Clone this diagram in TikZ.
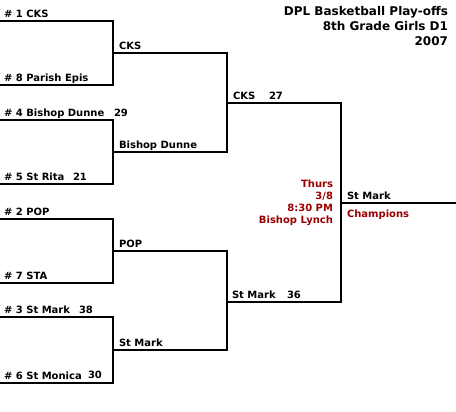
\documentclass[tikz,border=0pt]{standalone}
\usepackage{fontspec}
\setmainfont{DejaVu Sans}
\usetikzlibrary{positioning}
\definecolor{gamered}{RGB}{153,0,0}

\begin{document}
\begin{tikzpicture}[x=0.75pt, y=-0.75pt, line width=1.5pt,
  team/.style={font=\bfseries\fontsize{7.5}{9}\selectfont, anchor=base west, inner sep=0pt},
  note/.style={font=\bfseries\fontsize{7.5}{9}\selectfont, text=gamered, inner sep=0pt},
  heading/.style={font=\bfseries\fontsize{9}{10.9}\selectfont, align=right, inner sep=0pt}]
  \useasboundingbox (0,0) rectangle (456,411);

  % Title
  \node[heading, anchor=base east] (title) at (449,45)
    {DPL Basketball Play-offs\\8th Grade Girls D1\\2007};

  % Slots of the first round
  \coordinate (s1) at (0,21);
  \coordinate (s8) at (0,85);
  \coordinate (s4) at (0,120);
  \coordinate (s5) at (0,184);
  \coordinate (s2) at (0,219);
  \coordinate (s7) at (0,283);
  \coordinate (s3) at (0,317);
  \coordinate (s6) at (0,383);

  % Quarter final winners, semi final winners, final
  \coordinate (qf1) at (113,53);
  \coordinate (qf2) at (113,152);
  \coordinate (qf3) at (113,251);
  \coordinate (qf4) at (113,350);
  \coordinate (sf1) at (227,103);
  \coordinate (sf2) at (227,302);
  \coordinate (fin) at (341,203);
  \coordinate (champ) at (456,203);

  % Bracket lines
  \draw (s1) -| (qf1) |- (s8);
  \draw (s4) -| (qf2) |- (s5);
  \draw (s2) -| (qf3) |- (s7);
  \draw (s3) -| (qf4) |- (s6);
  \draw (qf1) -| (sf1) |- (qf2);
  \draw (qf3) -| (sf2) |- (qf4);
  \draw (sf1) -| (fin) |- (sf2);
  \draw (fin) -- (champ);

  % First round teams
  \node[team] (t1) at ([shift={(3,-4)}]s1) {\# 1 CKS};
  \node[team] (t8) at ([shift={(3,-4)}]s8) {\# 8 Parish Epis};
  \node[team] (t4) at ([shift={(3,-4)}]s4) {\# 4 Bishop Dunne};
  \node[team] (t5) at ([shift={(3,-4)}]s5) {\# 5 St Rita};
  \node[team] (t2) at ([shift={(3,-4)}]s2) {\# 2 POP};
  \node[team] (t7) at ([shift={(3,-4)}]s7) {\# 7 STA};
  \node[team] (t3) at ([shift={(3,-4)}]s3) {\# 3 St Mark};
  \node[team] (t6) at ([shift={(3,-4)}]s6) {\# 6 St Monica};
  \node[team] (p4) at (113,116) {29};
  \node[team] (p5) at (72,180) {21};
  \node[team] (p3) at (78,313) {38};
  \node[team] (p6) at (87,378) {30};

  % Second round
  \node[team] (w1) at ([shift={(5,-4)}]qf1) {CKS};
  \node[team] (w2) at ([shift={(5,-4)}]qf2) {Bishop Dunne};
  \node[team] (w3) at ([shift={(5,-4)}]qf3) {POP};
  \node[team] (w4) at ([shift={(5,-4)}]qf4) {St Mark};

  % Semi finals
  \node[team] (v1) at ([shift={(5,-4)}]sf1) {CKS};
  \node[team] (v2) at ([shift={(4,-4)}]sf2) {St Mark};
  \node[team] (q1) at (268,99) {27};
  \node[team] (q2) at (286,298) {36};

  % Final game
  \node[note, align=right, anchor=base east] (game) at (334,223)
    {Thurs\\3/8\\8:30 PM\\Bishop Lynch};
  \node[team] (winner) at ([shift={(5,-4)}]fin) {St Mark};
  \node[note, anchor=base west] (champs) at (346,217) {Champions};
\end{tikzpicture}
\end{document}
